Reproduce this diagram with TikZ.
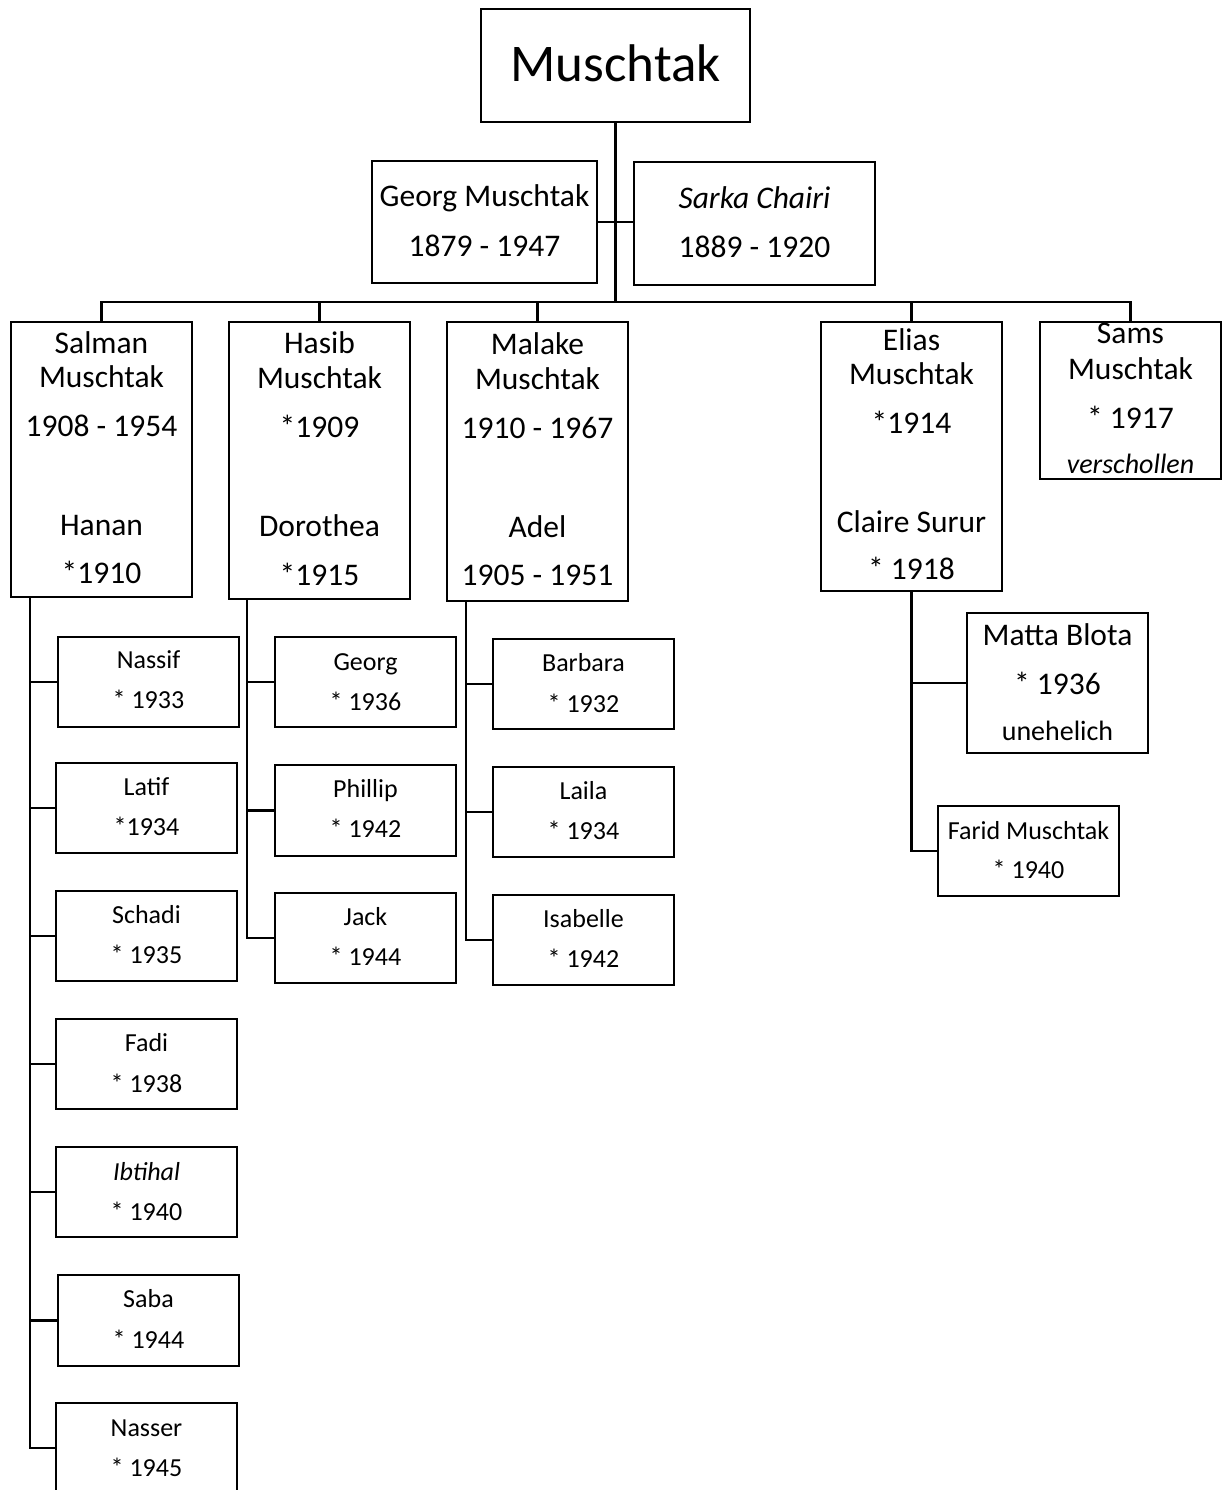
\documentclass[tikz,border=0pt]{standalone}
\usepackage{fontspec}
\setmainfont{Carlito}
\usetikzlibrary{fit}
\tikzset{
  box/.style={draw, line width=2.6pt, inner sep=0pt},
  conn/.style={line width=2.6pt},
  ttl/.style={anchor=base, inner sep=0pt, font=\fontsize{53}{60}\selectfont},
  big/.style={anchor=base, inner sep=0pt, font=\fontsize{31.5}{38}\selectfont},
  med/.style={anchor=base, inner sep=0pt, font=\fontsize{28}{34}\selectfont},
  sml/.style={anchor=base, inner sep=0pt, font=\fontsize{26}{31}\selectfont},
}
\begin{document}
\begin{tikzpicture}[x=1pt, y=-1pt]
\useasboundingbox (0,0) rectangle (1229,1490);
\clip (0,0) rectangle (1229,1490);

% ---------- boxes ----------
\node[box, fit={(481,9) (750,122)}] (root) {};
\node[box, fit={(372,161) (597,283)}] (georg) {};
\node[box, fit={(634,162) (875,285)}] (sarka) {};
\node[box, fit={(11,322) (192,597)}] (salman) {};
\node[box, fit={(229,322) (410,599)}] (hasib) {};
\node[box, fit={(447,322) (628,601)}] (malake) {};
\node[box, fit={(821,322) (1002,591)}] (elias) {};
\node[box, fit={(1040,322) (1221,479)}] (sams) {};
\node[box, fit={(58,637) (239,727)}] (nassif) {};
\node[box, fit={(56,763) (237,853)}] (latif) {};
\node[box, fit={(56,891) (237,981)}] (schadi) {};
\node[box, fit={(56,1019) (237,1109)}] (fadi) {};
\node[box, fit={(56,1147) (237,1237)}] (ibtihal) {};
\node[box, fit={(58,1275) (239,1366)}] (saba) {};
\node[box, fit={(56,1403) (237,1493)}] (nasser) {};
\node[box, fit={(275,637) (456,727)}] (georgjr) {};
\node[box, fit={(275,765) (456,856)}] (phillip) {};
\node[box, fit={(275,893) (456,983)}] (jack) {};
\node[box, fit={(493,639) (674,729)}] (barbara) {};
\node[box, fit={(493,767) (674,857)}] (laila) {};
\node[box, fit={(493,895) (674,985)}] (isabelle) {};
\node[box, fit={(967,613) (1148,753)}] (matta) {};
\node[box, fit={(938,806) (1119,896)}] (farid) {};

% ---------- connectors ----------
\coordinate (bus) at (616,302);
\draw[conn] (root.south) -- (root.south |- bus);
\draw[conn] (georg.east) -- (sarka.west |- georg.east);
\draw[conn] (salman.north) -- (salman.north |- bus) -- (sams.north |- bus) -- (sams.north);
\draw[conn] (hasib.north) -- (hasib.north |- bus);
\draw[conn] (malake.north) -- (malake.north |- bus);
\draw[conn] (elias.north) -- (elias.north |- bus);

\coordinate (sx) at (30,0);
\draw[conn] (salman.south -| sx) |- (nasser.west);
\foreach \c in {nassif,latif,schadi,fadi,ibtihal,saba}
  \draw[conn] (\c.west) -- (\c.west -| sx);

\coordinate (hx) at (247,0);
\draw[conn] (hasib.south -| hx) |- (jack.west);
\foreach \c in {georgjr,phillip}
  \draw[conn] (\c.west) -- (\c.west -| hx);

\coordinate (mx) at (466,0);
\draw[conn] (malake.south -| mx) |- (isabelle.west);
\foreach \c in {barbara,laila}
  \draw[conn] (\c.west) -- (\c.west -| mx);

\draw[conn] (elias.south) |- (farid.west);
\draw[conn] (matta.west) -- (matta.west -| elias.south);

% ---------- texts ----------
\node[ttl] (t-root) at (615.5,82) {Muschtak};

\node[big] (t-georg1) at (484.5,207) {Georg Muschtak};
\node[big] (t-georg2) at (484.5,256) {1879 - 1947};
\node[big] (t-sarka1) at (754.5,208) {\itshape Sarka Chairi};
\node[big] (t-sarka2) at (754.5,257) {1889 - 1920};

\node[big] (t-salman1) at (101.5,353) {Salman};
\node[big] (t-salman2) at (101.5,387) {Muschtak};
\node[big] (t-salman3) at (101.5,436) {1908 - 1954};
\node[big] (t-salman4) at (101.5,535) {Hanan};
\node[big] (t-salman5) at (101.5,583) {*1910};

\node[big] (t-hasib1) at (319.5,353) {Hasib};
\node[big] (t-hasib2) at (319.5,388) {Muschtak};
\node[big] (t-hasib3) at (319.5,437) {*1909};
\node[big] (t-hasib4) at (319.5,536) {Dorothea};
\node[big] (t-hasib5) at (319.5,585) {*1915};

\node[big] (t-malake1) at (537.5,354) {Malake};
\node[big] (t-malake2) at (537.5,389) {Muschtak};
\node[big] (t-malake3) at (537.5,438) {1910 - 1967};
\node[big] (t-malake4) at (537.5,537) {Adel};
\node[big] (t-malake5) at (537.5,585) {1905 - 1951};

\node[big] (t-elias1) at (911.5,350) {Elias};
\node[big] (t-elias2) at (911.5,384) {Muschtak};
\node[big] (t-elias3) at (911.5,433) {*1914};
\node[big] (t-elias4) at (911.5,532) {Claire Surur};
\node[big] (t-elias5) at (911.5,579) {* 1918};

\node[big] (t-sams1) at (1130.5,343) {Sams};
\node[big] (t-sams2) at (1130.5,379) {Muschtak};
\node[big] (t-sams3) at (1130.5,428) {* 1917};
\node[med] (t-sams4) at (1130.5,473) {\itshape verschollen};

\node[sml] (t-nassif1) at (148.5,668) {Nassif};
\node[sml] (t-nassif2) at (148.5,708) {* 1933};
\node[sml] (t-latif1) at (146.5,795) {Latif};
\node[sml] (t-latif2) at (146.5,835) {*1934};
\node[sml] (t-schadi1) at (146.5,923) {Schadi};
\node[sml] (t-schadi2) at (146.5,963) {* 1935};
\node[sml] (t-fadi1) at (146.5,1051) {Fadi};
\node[sml] (t-fadi2) at (146.5,1092) {* 1938};
\node[sml] (t-ibtihal1) at (146.5,1180) {\itshape Ibtihal};
\node[sml] (t-ibtihal2) at (146.5,1220) {* 1940};
\node[sml] (t-saba1) at (148.5,1307) {Saba};
\node[sml] (t-saba2) at (148.5,1348) {* 1944};
\node[sml] (t-nasser1) at (146.5,1436) {Nasser};
\node[sml] (t-nasser2) at (146.5,1476) {* 1945};

\node[sml] (t-georgjr1) at (365.5,670) {Georg};
\node[sml] (t-georgjr2) at (365.5,710) {* 1936};
\node[sml] (t-phillip1) at (365.5,797) {Phillip};
\node[sml] (t-phillip2) at (365.5,837) {* 1942};
\node[sml] (t-jack1) at (365.5,925) {Jack};
\node[sml] (t-jack2) at (365.5,965) {* 1944};

\node[sml] (t-barbara1) at (583.5,671) {Barbara};
\node[sml] (t-barbara2) at (583.5,712) {* 1932};
\node[sml] (t-laila1) at (583.5,799) {Laila};
\node[sml] (t-laila2) at (583.5,839) {* 1934};
\node[sml] (t-isabelle1) at (583.5,927) {Isabelle};
\node[sml] (t-isabelle2) at (583.5,967) {* 1942};

\node[big] (t-matta1) at (1057.5,645) {Matta Blota};
\node[big] (t-matta2) at (1057.5,694) {* 1936};
\node[med] (t-matta3) at (1057.5,740) {unehelich};
\node[sml] (t-farid1) at (1028.5,839) {Farid Muschtak};
\node[sml] (t-farid2) at (1028.5,878) {* 1940};
\end{tikzpicture}
\end{document}
